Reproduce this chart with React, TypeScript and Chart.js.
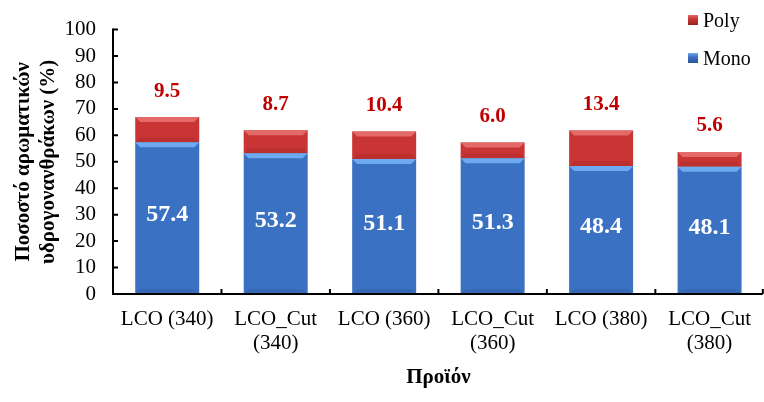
import React, { useEffect, useRef } from "react";
import { Chart, registerables } from "chart.js";

Chart.register(...registerables);

const categories: (string | string[])[] = [
  "LCO (340)",
  ["LCO_Cut", "(340)"],
  "LCO (360)",
  ["LCO_Cut", "(360)"],
  "LCO (380)",
  ["LCO_Cut", "(380)"],
];
const monoValues = [57.4, 53.2, 51.1, 51.3, 48.4, 48.1];
const polyValues = [9.5, 8.7, 10.4, 6.0, 13.4, 5.6];
const yTicks = [0, 10, 20, 30, 40, 50, 60, 70, 80, 90, 100];

const FONT = "'Liberation Serif', 'Times New Roman', serif";

const BLUE = { edge: "#2a5698", mid: "#3b71c2", bevel: "#6eaaf0" };
const RED = { edge: "#9a2222", mid: "#c93535", bevel: "#e46a6a" };

function makeFill(color: typeof BLUE) {
  return (ctx: any) => {
    const el = ctx.element;
    const chart = ctx.chart;
    if (!el || el.width == null || !chart.ctx) return color.mid;
    const x0 = el.x - el.width / 2;
    const x1 = el.x + el.width / 2;
    if (!isFinite(x0) || !isFinite(x1)) return color.mid;
    const g = chart.ctx.createLinearGradient(x0, 0, x1, 0);
    g.addColorStop(0, color.edge);
    g.addColorStop(0.08, color.mid);
    g.addColorStop(0.92, color.mid);
    g.addColorStop(1, color.edge);
    return g;
  };
}

const bevelPlugin = {
  id: "bevel",
  afterDatasetsDraw(chart: any) {
    const ctx = chart.ctx;
    chart.data.datasets.forEach((ds: any, di: number) => {
      const meta = chart.getDatasetMeta(di);
      const col = di === 0 ? BLUE : RED;
      meta.data.forEach((bar: any) => {
        const l = bar.x - bar.width / 2;
        const r = bar.x + bar.width / 2;
        const t = Math.min(bar.y, bar.base);
        const b = Math.max(bar.y, bar.base);
        const bv = 5;
        ctx.save();
        ctx.fillStyle = col.bevel;
        ctx.beginPath();
        ctx.moveTo(l, t);
        ctx.lineTo(r, t);
        ctx.lineTo(r - bv, t + bv);
        ctx.lineTo(l + bv, t + bv);
        ctx.closePath();
        ctx.fill();
        ctx.fillStyle = col.edge;
        ctx.globalAlpha = 0.3;
        ctx.beginPath();
        ctx.moveTo(l, b);
        ctx.lineTo(r, b);
        ctx.lineTo(r - bv, b - bv);
        ctx.lineTo(l + bv, b - bv);
        ctx.closePath();
        ctx.fill();
        ctx.restore();
      });
    });
  },
};

const labelPlugin = {
  id: "valueLabels",
  afterDatasetsDraw(chart: any) {
    const ctx = chart.ctx;
    const mono = chart.getDatasetMeta(0);
    const poly = chart.getDatasetMeta(1);
    ctx.save();
    ctx.textAlign = "center";
    ctx.textBaseline = "middle";
    mono.data.forEach((bar: any, i: number) => {
      ctx.fillStyle = "#ffffff";
      ctx.font = `bold 24px ${FONT}`;
      ctx.fillText(monoValues[i].toFixed(1), bar.x, (bar.y + bar.base) / 2 - 3);
    });
    poly.data.forEach((bar: any, i: number) => {
      ctx.fillStyle = "#c00000";
      ctx.font = `bold 21px ${FONT}`;
      ctx.fillText(polyValues[i].toFixed(1), bar.x, bar.y - 26);
    });
    ctx.restore();
  },
};

const axisPlugin = {
  id: "axisLines",
  afterDraw(chart: any) {
    const ctx = chart.ctx;
    const { left, right, top, bottom } = chart.chartArea;
    const ys = chart.scales.y;
    const xs = chart.scales.x;
    ctx.save();
    ctx.strokeStyle = "#000";
    ctx.lineWidth = 2;
    ctx.beginPath();
    ctx.moveTo(left, top - 1);
    ctx.lineTo(left, bottom);
    ctx.lineTo(right - 1, bottom);
    ctx.stroke();
    ctx.beginPath();
    yTicks.forEach((v) => {
      const y = ys.getPixelForValue(v);
      ctx.moveTo(left, y);
      ctx.lineTo(left + 5, y);
    });
    for (let i = 1; i <= categories.length; i++) {
      const x = xs.getPixelForValue(i - 0.5);
      const xx = Math.min(x, right - 1);
      ctx.moveTo(xx, bottom);
      ctx.lineTo(xx, bottom - 5);
    }
    ctx.stroke();
    ctx.restore();
  },
};

export default function App() {
  const canvasRef = useRef<HTMLCanvasElement>(null);

  useEffect(() => {
    document.body.style.margin = "0";
    const canvas = canvasRef.current;
    if (!canvas) return;
    const chart = new Chart(canvas, {
      type: "bar",
      data: {
        labels: categories as any,
        datasets: [
          {
            label: "Mono",
            data: monoValues,
            backgroundColor: makeFill(BLUE) as any,
            borderWidth: 0,
            barPercentage: 0.59,
            categoryPercentage: 1,
          },
          {
            label: "Poly",
            data: polyValues,
            backgroundColor: makeFill(RED) as any,
            borderWidth: 0,
            barPercentage: 0.59,
            categoryPercentage: 1,
          },
        ],
      },
      options: {
        animation: false,
        responsive: false,
        maintainAspectRatio: false,
        layout: { padding: { top: 20, right: 0, left: 0, bottom: 0 } },
        plugins: {
          legend: { display: false },
          tooltip: { enabled: false },
        },
        scales: {
          x: {
            stacked: true,
            grid: { display: false, drawTicks: false },
            border: { display: false },
            ticks: {
              color: "#000",
              font: { family: FONT, size: 21, lineHeight: 1.15 },
              padding: 13,
              maxRotation: 0,
              autoSkip: false,
            },
            title: {
              display: true,
              text: "Προϊόν",
              color: "#000",
              font: { family: FONT, size: 21, weight: "bold", lineHeight: 1.2 },
              padding: { top: 0, bottom: 12 },
            },
            afterFit(scale: any) {
              scale.height = 108;
            },
          },
          y: {
            stacked: true,
            min: 0,
            max: 100,
            grid: { display: false, drawTicks: false },
            border: { display: false },
            afterBuildTicks(scale: any) {
              scale.ticks = yTicks.map((v) => ({ value: v }));
            },
            ticks: {
              color: "#000",
              font: { family: FONT, size: 21 },
              padding: 17,
              autoSkip: false,
              stepSize: 10,
            },
            title: {
              display: true,
              text: ["Ποσοστό αρωματικών", "υδρογονανθράκων (%)"],
              color: "#000",
              font: { family: FONT, size: 21, weight: "bold", lineHeight: 1.2 },
              padding: { top: 11, bottom: 0 },
            },
            afterFit(scale: any) {
              scale.width = 113;
            },
          },
        },
      },
      plugins: [bevelPlugin, labelPlugin, axisPlugin],
    });
    return () => chart.destroy();
  }, []);

  const legendItem = (label: string, col: typeof BLUE, top: number) => (
    <div
      style={{
        position: "absolute",
        left: 688,
        top,
        display: "flex",
        alignItems: "center",
        fontFamily: FONT,
        fontSize: 20,
        color: "#000",
        lineHeight: "22px",
      }}
    >
      <span
        style={{
          display: "inline-block",
          width: 10,
          height: 10,
          marginRight: 5,
          background: `linear-gradient(180deg, ${col.bevel} 0%, ${col.mid} 40%, ${col.edge} 100%)`,
        }}
      />
      {label}
    </div>
  );

  return (
    <div style={{ position: "fixed", left: 0, top: 0, width: 764, height: 402, background: "#fff" }}>
      <canvas ref={canvasRef} width={764} height={402} style={{ width: 764, height: 402 }} />
      {legendItem("Poly", RED, 9)}
      {legendItem("Mono", BLUE, 47)}
    </div>
  );
}
